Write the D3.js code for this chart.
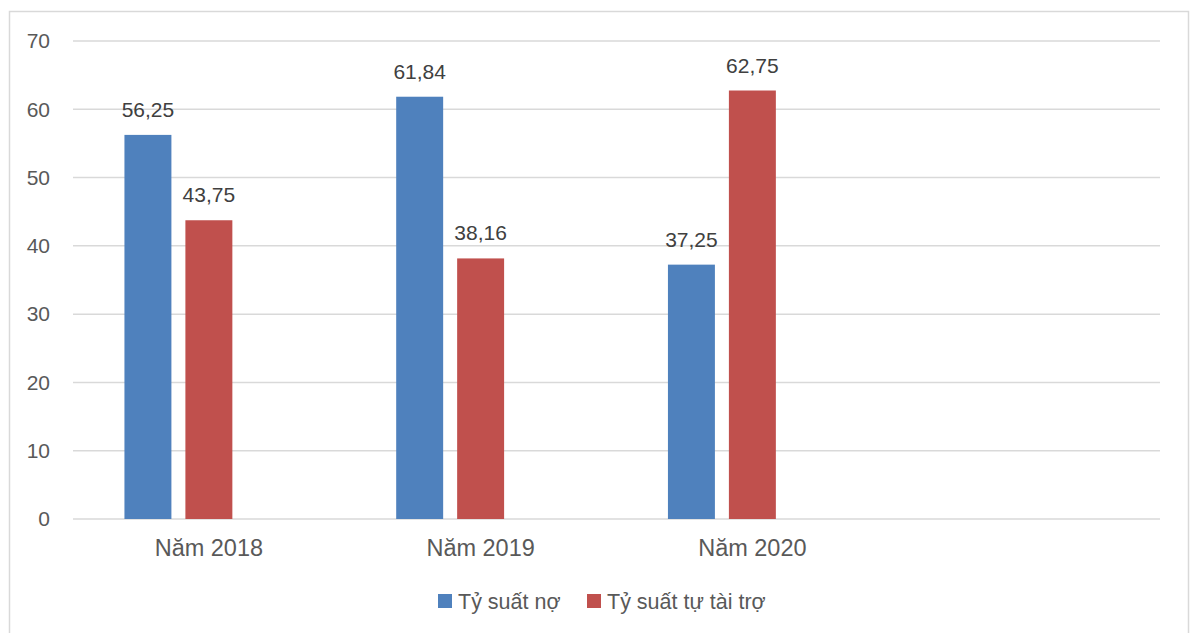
<!DOCTYPE html>
<html>
<head>
<meta charset="utf-8">
<script src="https://cdn.jsdelivr.net/npm/d3@7"></script>
<style>
  body { margin: 0; background: #fff; }
  svg text { font-family: "Liberation Sans", Arial, sans-serif; }
</style>
</head>
<body>
<div id="chart"></div>
<script>
const categories = ["Năm 2018", "Năm 2019", "Năm 2020", ""];
const seriesNames = ["Tỷ suất nợ", "Tỷ suất tự tài trợ"];
const tySuatNo = [56.25, 61.84, 37.25];
const tySuatTuTaiTro = [43.75, 38.16, 62.75];
const yTicks = [0, 10, 20, 30, 40, 50, 60, 70];
const colors = ["#4F81BD", "#C0504D"];

const width = 1191;
const height = 633;
const margin = {top: 41, right: 31, bottom: 114, left: 73};

const svg = d3.select("#chart").append("svg")
    .attr("width", width)
    .attr("height", height);

// outer frame
svg.append("rect")
    .attr("x", 9.5).attr("y", 11.5)
    .attr("width", 1179).attr("height", 640)
    .attr("fill", "#fff")
    .attr("stroke", "#D9D9D9")
    .attr("stroke-width", 1.5);

const x0 = d3.scaleBand()
    .domain(categories)
    .range([margin.left, width - margin.right])
    .padding(0);

// three slots per group, the third one stays empty
const x1 = d3.scaleBand()
    .domain([0, 1, 2])
    .range([0, x0.bandwidth()])
    .paddingInner(14 / 61)
    .paddingOuter(0.844);

const y = d3.scaleLinear()
    .domain([0, 70])
    .range([height - margin.bottom, margin.top]);

// grid
svg.append("g")
    .selectAll("line")
    .data(yTicks)
    .join("line")
      .attr("x1", margin.left)
      .attr("x2", width - margin.right)
      .attr("y1", d => y(d))
      .attr("y2", d => y(d))
      .attr("stroke", "#D9D9D9")
      .attr("stroke-width", 1.5);

// y labels
svg.append("g")
    .selectAll("text")
    .data(yTicks)
    .join("text")
      .attr("x", 50)
      .attr("y", d => y(d))
      .attr("dy", "0.35em")
      .attr("text-anchor", "end")
      .attr("font-size", 21)
      .attr("fill", "#595959")
      .text(d => d);

// x labels
svg.append("g")
    .selectAll("text")
    .data(categories)
    .join("text")
      .attr("x", d => x0(d) + x0.bandwidth() / 2)
      .attr("y", 548)
      .attr("dy", "0.35em")
      .attr("text-anchor", "middle")
      .attr("font-size", 23.5)
      .attr("fill", "#595959")
      .text(d => d);

const data = [];
[tySuatNo, tySuatTuTaiTro].forEach((vals, s) => {
    vals.forEach((v, i) => data.push({cat: categories[i], s, v}));
});

svg.append("g")
    .selectAll("rect")
    .data(data)
    .join("rect")
      .attr("x", d => x0(d.cat) + x1(d.s))
      .attr("y", d => y(d.v))
      .attr("width", x1.bandwidth())
      .attr("height", d => y(0) - y(d.v))
      .attr("fill", d => colors[d.s]);

svg.append("g")
    .selectAll("text")
    .data(data)
    .join("text")
      .attr("x", d => x0(d.cat) + x1(d.s) + x1.bandwidth() / 2)
      .attr("y", d => y(d.v) - 18)
      .attr("text-anchor", "middle")
      .attr("font-size", 21)
      .attr("fill", "#404040")
      .text(d => d3.format(".2f")(d.v).replace(".", ","));

// legend
const legendX = [438, 587];
const lg = svg.append("g")
    .selectAll("g")
    .data(seriesNames)
    .join("g")
      .attr("transform", (d, i) => `translate(${legendX[i]},594)`);
lg.append("rect")
    .attr("width", 14).attr("height", 14)
    .attr("fill", (d, i) => colors[i]);
lg.append("text")
    .attr("x", 20)
    .attr("y", 7)
    .attr("dy", "0.35em")
    .attr("font-size", 21.5)
    .attr("fill", "#595959")
    .text(d => d);
</script>
</body>
</html>
